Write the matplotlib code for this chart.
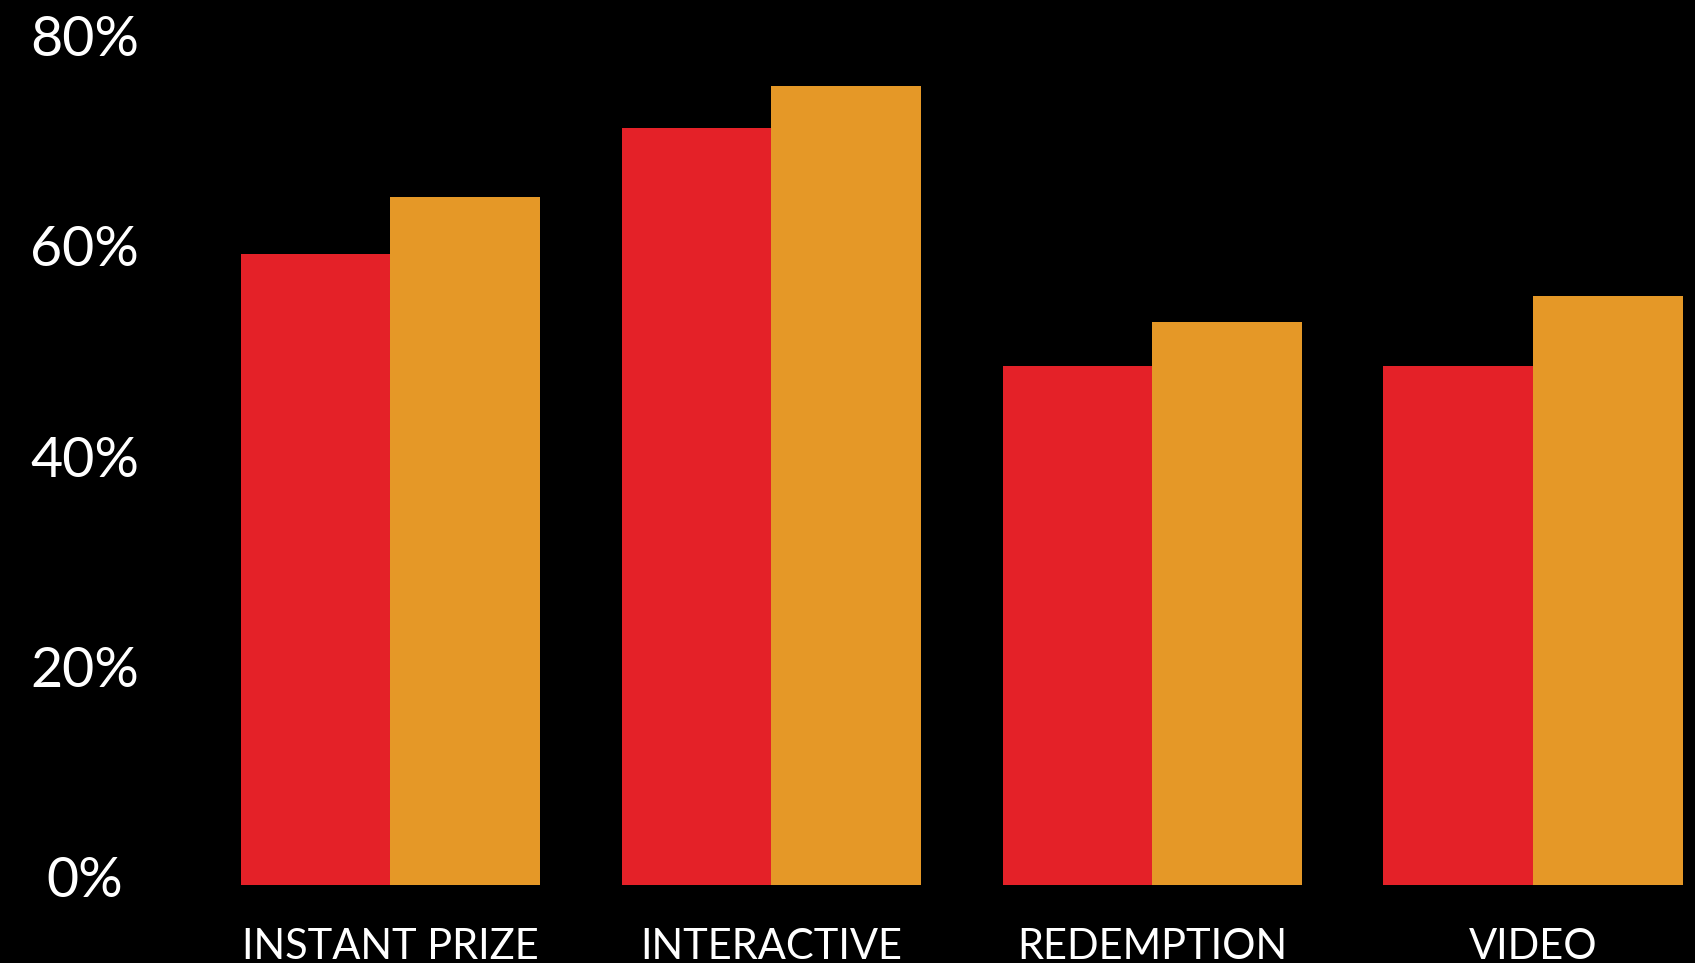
import numpy as np
import matplotlib.pyplot as plt
from matplotlib.transforms import ScaledTranslation

# share of campaigns by type, two series per category
categories = ["INSTANT PRIZE", "INTERACTIVE", "REDEMPTION", "VIDEO"]
series_red = [60, 72, 49.3, 49.3]
series_orange = [65.4, 76, 53.5, 56]
ytick_values = [0, 20, 40, 60, 80]
ytick_labels = ["0%", "20%", "40%", "60%", "80%"]

plt.rcParams['font.family'] = ['Lato', 'DejaVu Sans']

fig = plt.figure(figsize=(16.95, 9.63), dpi=100, facecolor='black')
ax = fig.add_axes([200 / 1695, 0.0813, 1495 / 1695, 0.8735])
ax.set_facecolor('black')

x = np.arange(len(categories))
w = 0.393
ax.bar(x - w / 2, series_red, w, color='#E42128', linewidth=0)
ax.bar(x + w / 2, series_orange, w, color='#E59827', linewidth=0)

ax.set_xlim(-0.5, 3.425)
ax.set_ylim(0, 80)

ax.tick_params(axis='y', length=0, pad=83)
ax.tick_params(axis='x', length=0, pad=31)
ax.set_xticks(x)
ax.set_xticklabels(categories, fontsize=30, color='white')
ax.set_yticks(ytick_values)
ax.set_yticklabels(ytick_labels, fontsize=40, color='white')
# nudge the percent labels up a little
shift = ScaledTranslation(0, 0.08, fig.dpi_scale_trans)
for lab in ax.get_yticklabels():
    lab.set_ha('center')
    lab.set_transform(lab.get_transform() + shift)

for s in ax.spines.values():
    s.set_visible(False)

fig.savefig('out.png', dpi=100, facecolor='black')
